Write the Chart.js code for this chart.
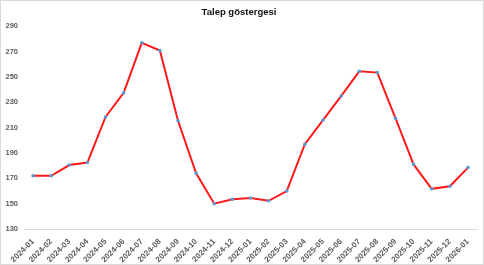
<!DOCTYPE html>
<html>
<head>
<meta charset="utf-8">
<script src="https://cdn.jsdelivr.net/npm/chart.js@4"></script>
<style>
  html, body { margin: 0; padding: 0; background: #fff; }
  #wrap { width: 482px; height: 263px; border: 1px solid #d9d9d9; position: relative; }
</style>
</head>
<body>
<div id="wrap"><canvas id="c"></canvas></div>
<script>
/* ---------- 데이터 ---------- */
const months = ['2024-01','2024-02','2024-03','2024-04','2024-05','2024-06','2024-07','2024-08','2024-09',
  '2024-10','2024-11','2024-12','2025-01','2025-02','2025-03','2025-04','2025-05','2025-06','2025-07',
  '2025-08','2025-09','2025-10','2025-11','2025-12','2026-01'];
const demand = [172, 172, 180.5, 182.5, 218.5, 237.5, 277, 271, 215.5, 174, 150, 153.5, 154.5, 152.3,
  160, 197, 216, 235, 254.5, 253.5, 217.5, 181, 161.7, 163.8, 178.5];
const yMin = 130, yMax = 290, yStep = 20;

const TICK_COLOR = '#595959';
const FONT = "'Liberation Sans', Arial, sans-serif";

new Chart(document.getElementById('c'), {
  type: 'line',
  data: {
    labels: months,
    datasets: [{
      label: 'Talep göstergesi',
      data: demand,
      borderColor: '#ff1a1a',
      borderWidth: 2,
      tension: 0,
      pointRadius: 1.8,
      pointBackgroundColor: '#5b9bd5',
      pointBorderColor: '#5b9bd5',
      pointBorderWidth: 0,
    }]
  },
  options: {
    responsive: true,
    maintainAspectRatio: false,
    animation: false,
    layout: { padding: { top: 0, right: 6, left: 0, bottom: 0 } },
    plugins: {
      legend: { display: false },
      tooltip: { enabled: false },
      title: {
        display: true,
        text: 'Talep göstergesi',
        color: '#111',
        font: { size: 9.5, weight: 'bold', family: FONT },
        padding: { top: 6, bottom: 8 },
      },
    },
    scales: {
      x: {
        offset: true,
        grid: { display: false, offset: true },
        border: { color: '#d9d9d9' },
        afterFit: axis => { axis.height = 35; },
        ticks: {
          color: TICK_COLOR,
          autoSkip: false,
          maxRotation: 45, minRotation: 45,
          padding: 0,
          font: { size: 8, weight: 'bold', family: FONT },
        },
      },
      y: {
        min: yMin, max: yMax,
        grid: { display: false, drawTicks: false },
        border: { display: false },
        afterFit: axis => { axis.width = 23; },
        ticks: {
          stepSize: yStep,
          color: TICK_COLOR,
          padding: 6,
          font: { size: 7.5, weight: 'bold', family: FONT },
        },
      }
    }
  }
});
</script>
</body>
</html>
